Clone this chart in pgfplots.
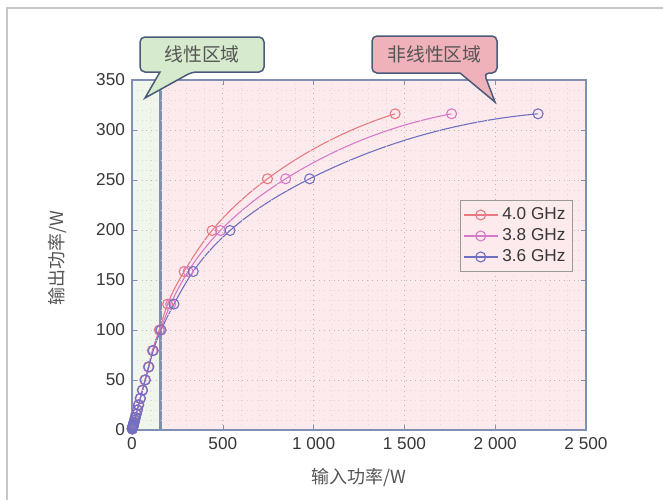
\documentclass[border=0pt]{standalone}
\usepackage{pgfplots}
\pgfplotsset{compat=1.18}
\usetikzlibrary{hobby}
\usepackage{fontspec}
\setmainfont{Liberation Sans}
\newfontfamily\cjk{Noto Sans CJK SC}
\definecolor{cred}{RGB}{232,122,132}
\definecolor{cpink}{RGB}{214,122,200}
\definecolor{cblue}{RGB}{112,112,192}
\definecolor{bgpink}{RGB}{253,234,237}
\definecolor{bggreen}{RGB}{240,246,236}
\definecolor{axcol}{RGB}{128,144,180}
\definecolor{sepcol}{RGB}{125,145,172}
\definecolor{gridmaj}{RGB}{185,185,195}
\definecolor{gridmin}{RGB}{225,214,220}
\definecolor{boxborder}{RGB}{74,90,120}
\definecolor{boxgreen}{RGB}{214,234,206}
\definecolor{boxpink}{RGB}{240,178,186}
\definecolor{txt}{RGB}{55,55,55}
\definecolor{lbl}{RGB}{85,85,85}
\begin{document}
\begin{tikzpicture}
\useasboundingbox (0,0) rectangle (331.5pt,250pt);
\begin{scope}[x=0.5pt,y=0.5pt]
\draw[black!22, line width=0.6pt] (7,0) -- (7,492) -- (663,492);
\end{scope}
\begin{axis}[
  axis on top,
  at={(66pt,35pt)}, anchor=south west,
  scale only axis, width=227pt, height=175pt,
  xmin=0, xmax=2500, ymin=0, ymax=350,
  xtick={0,500,1000,1500,2000,2500},
  ytick={0,50,100,150,200,250,300,350},
  minor x tick num=4, minor y tick num=4,
  grid=both,
  major grid style={dotted, gridmaj, line width=0.5pt},
  minor grid style={dotted, gridmin, line width=0.4pt},
  axis line style={axcol, line width=0.9pt},
  tick style={axcol},
  tick align=inside, major tick length=2.5pt, minor tick length=0pt,
  ticklabel style={font=\fontsize{8.6}{10}\selectfont, text=txt},
  /pgf/number format/assume math mode=true,
  /pgf/number format/1000 sep={\ },
  xlabel={\cjk 输入功率/W}, ylabel={\cjk 输出功率/W},
  label style={font=\fontsize{9}{11}\selectfont, text=lbl},
  xlabel style={at={(axis description cs:0.5,-0.137)}, anchor=center},
  ylabel style={at={(axis description cs:-0.165,0.491)}, anchor=center},
  legend style={at={(0.971,0.657)}, anchor=north east, draw=black!40, fill=bgpink,
    font=\fontsize{8.6}{10}\selectfont, text=txt, inner sep=1.5pt, row sep=-1pt},
  legend cell align=left,
  every axis plot/.append style={line width=0.55pt, mark=o, mark size=2.5pt, hobby},
]
\fill[bgpink] (axis cs:155,0) rectangle (axis cs:2500,350);
\fill[bggreen] (axis cs:0,0) rectangle (axis cs:155,350);
\draw[sepcol, line width=1.5pt] (axis cs:155,0) -- (axis cs:155,350);
\addplot[cred, mark options={cred}] coordinates {
(1.4,1.0)(1.8,1.3)(2.3,1.6)(2.8,2.0)(3.6,2.5)(4.5,3.2)(5.7,4.0)(7.1,5.0)(8.9,6.3)(11.2,7.9)(14.2,10.0)(17.9,12.6)(22.4,15.8)(28.4,20.0)(35.6,25.1)(44.9,31.6)(56.5,39.8)(71.1,50.1)(90,63.1)(112,79.4)(150,100)(196,125.9)(287,158.5)(441,199.5)(746,251.2)(1449,316.2)};
\addlegendentry{4.0 GHz}
\addplot[cpink, mark options={cpink}] coordinates {
(1.4,1.0)(1.9,1.3)(2.3,1.6)(2.9,2.0)(3.6,2.5)(4.6,3.2)(5.8,4.0)(7.2,5.0)(9.1,6.3)(11.4,7.9)(14.4,10.0)(18.1,12.6)(22.8,15.8)(28.8,20.0)(36.1,25.1)(45.5,31.6)(57.3,39.8)(72.1,50.1)(91,63.1)(114,79.4)(155,100)(213,125.9)(309,158.5)(487,199.5)(846,251.2)(1760,316.2)};
\addlegendentry{3.8 GHz}
\addplot[cblue, mark options={cblue}] coordinates {
(1.5,1.0)(1.9,1.3)(2.4,1.6)(2.9,2.0)(3.7,2.5)(4.7,3.2)(5.9,4.0)(7.4,5.0)(9.3,6.3)(11.6,7.9)(14.7,10.0)(18.5,12.6)(23.2,15.8)(29.4,20.0)(36.9,25.1)(46.5,31.6)(58.5,39.8)(73.6,50.1)(93,63.1)(117,79.4)(160,100)(231,125.9)(337,158.5)(540,199.5)(978,251.2)(2236,316.2)};
\addlegendentry{3.6 GHz}
\end{axis}
\begin{scope}[x=0.5pt,y=0.5pt]
\draw[boxborder, fill=boxgreen, line width=0.75pt, rounded corners=2.5pt]
  (140,445) |- (264,463) |- (192,428) [sharp corners] -- (145,402) -- (160,428) [rounded corners=2.5pt] -| (140,445) -- cycle;
\node[font=\cjk\fontsize{9.4}{11}\selectfont, text=lbl] at (202,445.5) {线性区域};
\draw[boxborder, fill=boxpink, line width=0.75pt, rounded corners=2.5pt]
  (372,445) |- (497,464) |- (484,427) [sharp corners] -- (495,398) -- (460,427) [rounded corners=2.5pt] -| (372,445) -- cycle;
\node[font=\cjk\fontsize{9.4}{11}\selectfont, text=lbl] at (434.5,445.5) {非线性区域};
\end{scope}
\end{tikzpicture}
\end{document}
